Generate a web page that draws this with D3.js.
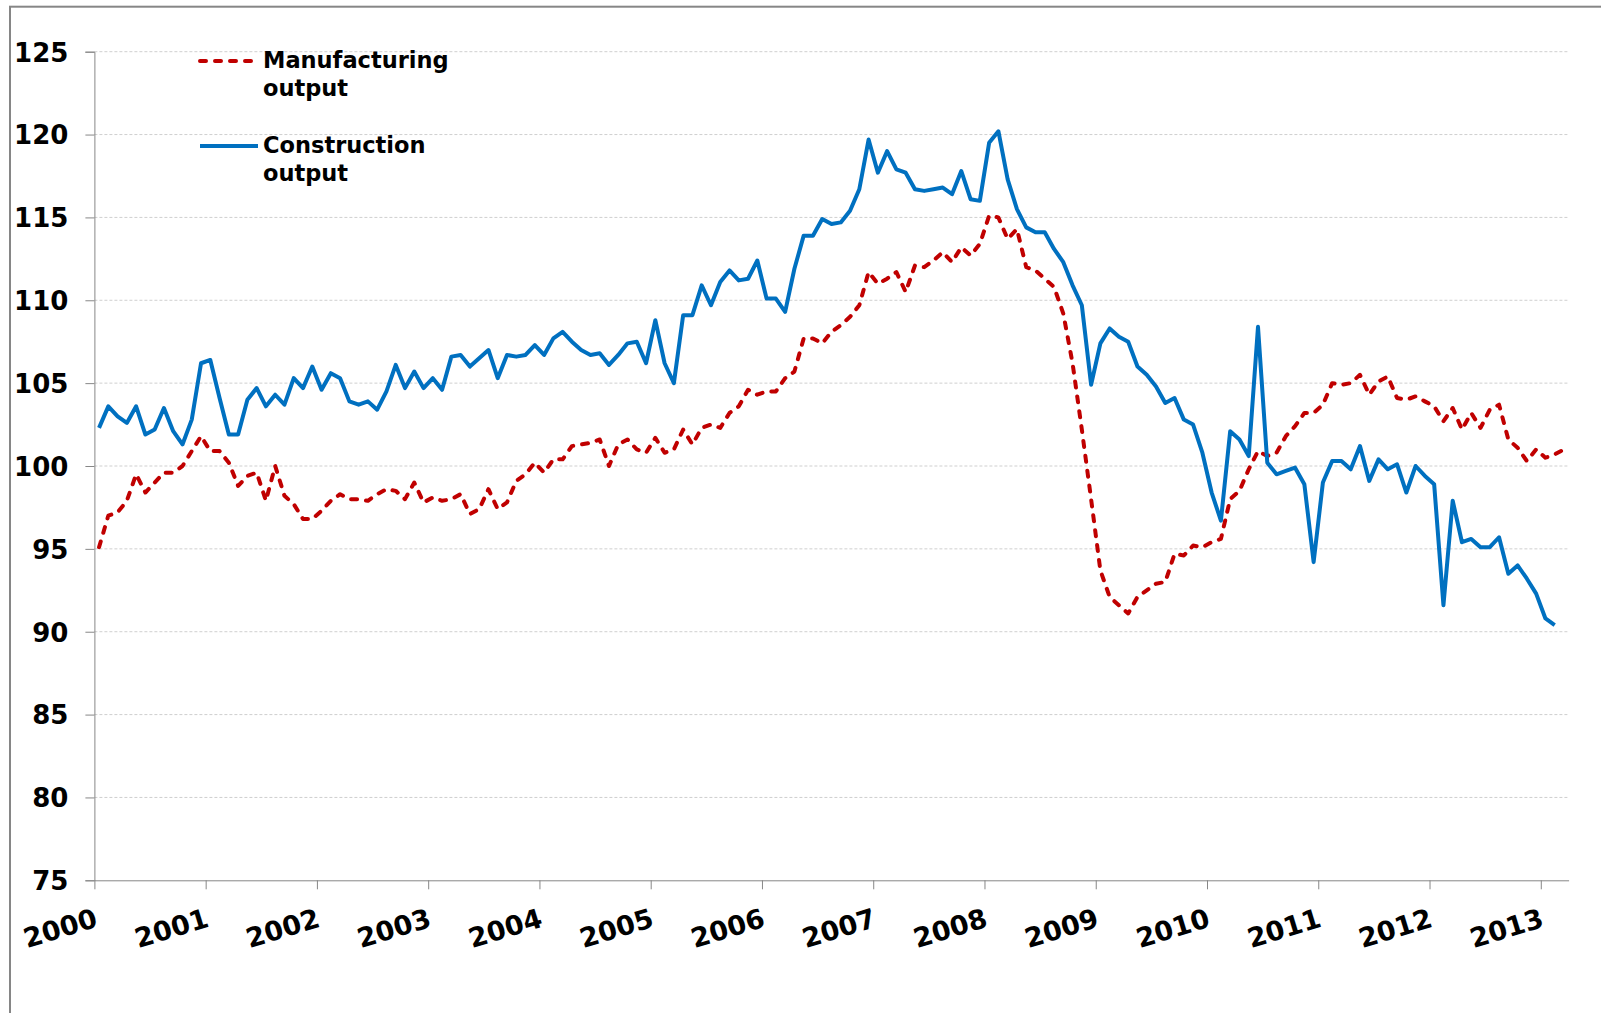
<!DOCTYPE html>
<html>
<head>
<meta charset="utf-8">
<script src="https://cdn.jsdelivr.net/npm/d3@7"></script>
<style>
  body { margin: 0; background: #fff; }
  text { font-family: "DejaVu Sans", Verdana, sans-serif; font-weight: bold; fill: #000; }
</style>
</head>
<body>
<svg id="svg" width="1601" height="1013"></svg>
<script>
// monthly index, Jan 2000 = 100-ish scale
var years = [2000,2001,2002,2003,2004,2005,2006,2007,2008,2009,2010,2011,2012,2013];
var yTicks = [75,80,85,90,95,100,105,110,115,120,125];
var nMonths = 159; // Jan 2000 .. Mar 2013

var manufacturing = [
  95.1, 97.0, 97.2, 97.9, 99.5, 98.4, 99.0, 99.6, 99.6,100.0,100.9,101.8,
 100.9,100.9,100.2, 98.8, 99.4, 99.6, 97.9,100.0, 98.2, 97.7, 96.8, 96.8,
  97.3, 97.9, 98.3, 98.0, 98.0, 97.9, 98.3, 98.6, 98.5, 98.0, 99.0, 97.8,
  98.1, 97.9, 98.0, 98.3, 97.1, 97.4, 98.6, 97.4, 97.8, 99.1, 99.5,100.2,
  99.6,100.4,100.4,101.2,101.3,101.4,101.6,100.0,101.3,101.6,101.0,100.8,
 101.7,100.8,101.0,102.2,101.3,102.3,102.5,102.3,103.2,103.6,104.6,104.3,
 104.5,104.5,105.3,105.7,107.7,107.7,107.4,108.1,108.5,109.0,109.7,111.7,
 111.0,111.3,111.7,110.5,112.1,112.0,112.4,112.9,112.3,113.2,112.7,113.4,
 115.1,115.0,113.7,114.3,112.0,111.8,111.3,110.8,109.2,106.2,102.2, 98.0,
  93.7, 92.1, 91.6, 91.1, 92.1, 92.5, 92.9, 93.0, 94.7, 94.6, 95.2, 95.1,
  95.4, 95.6, 98.0, 98.5, 99.8,100.9,100.6,100.8,101.8,102.4,103.2,103.2,
 103.7,105.0,104.9,105.0,105.5,104.3,105.1,105.4,104.1,104.0,104.2,103.9,
 103.6,102.7,103.5,102.2,103.2,102.3,103.4,103.7,101.6,101.1,100.3,101.0,
 100.5,100.7,101.0
];

var construction = [
 102.3,103.6,103.0,102.6,103.6,101.9,102.2,103.5,102.1,101.3,102.8,106.2,
 106.4,104.1,101.9,101.9,104.0,104.7,103.6,104.3,103.7,105.3,104.7,106.0,
 104.6,105.6,105.3,103.9,103.7,103.9,103.4,104.5,106.1,104.7,105.7,104.7,
 105.3,104.6,106.6,106.7,106.0,106.5,107.0,105.3,106.7,106.6,106.7,107.3,
 106.7,107.7,108.1,107.5,107.0,106.7,106.8,106.1,106.7,107.4,107.5,106.2,
 108.8,106.2,105.0,109.1,109.1,110.9,109.7,111.1,111.8,111.2,111.3,112.4,
 110.1,110.1,109.3,111.9,113.9,113.9,114.9,114.6,114.7,115.4,116.7,119.7,
 117.7,119.0,117.9,117.7,116.7,116.6,116.7,116.8,116.4,117.8,116.1,116.0,
 119.5,120.2,117.3,115.5,114.4,114.1,114.1,113.1,112.3,110.9,109.7,104.9,
 107.4,108.3,107.8,107.5,106.0,105.5,104.8,103.8,104.1,102.8,102.5,100.8,
  98.4, 96.7,102.1,101.6,100.6,108.4,100.2, 99.5, 99.7, 99.9, 98.9, 94.2,
  99.0,100.3,100.3, 99.8,101.2, 99.1,100.4, 99.8,100.1, 98.4,100.0, 99.4,
  98.9, 91.6, 97.9, 95.4, 95.6, 95.1, 95.1, 95.7, 93.5, 94.0, 93.2, 92.3,
  90.8, 90.4
];

var legendItems = [
  {name:["Manufacturing","output"], data:manufacturing, color:"#C00000", dash:"6,9"},
  {name:["Construction","output"],  data:construction,  color:"#0070C0", dash:null}
];

var svg = d3.select("#svg");

var x0 = 94.4, x1 = 1568.6,
    y0 = 880.3, y1 = 51.7;

var x = d3.scaleLinear().domain([0, nMonths]).range([x0, x1]),
    y = d3.scaleLinear().domain([75, 125]).range([y0, y1]);

var axisCol = "#878787";

// outer frame (only top and left edge fall inside the picture)
svg.append("rect")
    .attr("x", 10).attr("y", 6.7).attr("width", 1700).attr("height", 1100)
    .attr("fill", "none").attr("stroke", "#868686").attr("stroke-width", 2);

// gridlines
svg.append("g").selectAll("line").data(yTicks.slice(1)).enter()
    .append("line")
    .attr("x1", x0).attr("x2", x1)
    .attr("y1", d => y(d)).attr("y2", d => y(d))
    .attr("stroke", "#cfcfcf").attr("stroke-width", 1).attr("stroke-dasharray", "3,2");

// y axis
var yAxis = svg.append("g").attr("transform", "translate(" + x0 + ",0)")
    .call(d3.axisLeft(y).tickValues(yTicks).tickSize(9).tickPadding(17));
yAxis.select(".domain").attr("stroke", axisCol);
yAxis.selectAll(".tick line").attr("stroke", axisCol);
yAxis.selectAll("text").attr("font-size", 26).attr("font-family", null).attr("dy", "0.36em");

// x axis
var xAxis = svg.append("g").attr("transform", "translate(0," + y0 + ")")
    .call(d3.axisBottom(x).tickValues(years.map((d, i) => i * 12)).tickSize(9).tickSizeOuter(0)
        .tickFormat((d, i) => years[i]));
xAxis.select(".domain").attr("stroke", axisCol);
xAxis.selectAll(".tick line").attr("stroke", axisCol);
xAxis.selectAll("text")
    .attr("font-size", 27).attr("font-family", null)
    .attr("text-anchor", "end")
    .attr("y", 0).attr("dy", 0)
    .attr("transform", "translate(4,46) rotate(-17)");

// series
var line = d3.line().x((d, i) => x(i + 0.5)).y(d => y(d));

svg.append("g").selectAll("path").data(legendItems).enter()
    .append("path")
    .attr("d", d => line(d.data))
    .attr("fill", "none")
    .attr("stroke", d => d.color)
    .attr("stroke-width", 4)
    .attr("stroke-linejoin", "round")
    .attr("stroke-linecap", d => d.dash ? "round" : "butt")
    .attr("stroke-dasharray", d => d.dash);

// legend
var lg = svg.append("g").selectAll("g").data(legendItems).enter()
    .append("g").attr("transform", (d, i) => "translate(200," + (61 + 85 * i) + ")");

lg.append("line")
    .attr("x1", 0).attr("x2", 58).attr("y1", 0).attr("y2", 0)
    .attr("stroke", d => d.color).attr("stroke-width", 4)
    .attr("stroke-linecap", d => d.dash ? "round" : "butt")
    .attr("stroke-dasharray", d => d.dash);

lg.append("text")
    .attr("font-size", 22.5)
    .selectAll("tspan").data(d => d.name).enter()
    .append("tspan")
    .attr("x", 63).attr("y", (d, i) => 7 + 28 * i)
    .text(d => d);
</script>
</body>
</html>
